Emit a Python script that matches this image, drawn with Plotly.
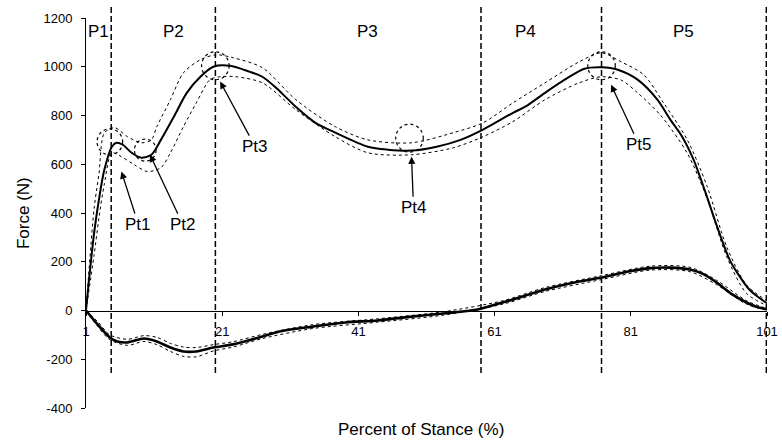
import plotly.graph_objects as go

# ---- vertical ground reaction force (N) vs percent of stance ----
vert_x = [1, 1.4, 2.2, 2.9, 3.7, 4.8, 5.5, 6.4, 7.7, 9.1, 10.6, 12.0, 13.9, 15.8, 17.8,
          19.7, 22.1, 25.0, 26.9, 28.9, 31.8, 34.7, 37.6, 42.4, 45.3, 48.8, 52.5, 56.0,
          59.3, 63.7, 65.5, 68.4, 71.3, 74.2, 76.7, 79.1, 82.0, 84.9, 86.8, 88.5, 90.2,
          91.9, 93.6, 95.5, 97.0, 98.4, 99.8, 101]
vert_mean = [0, 115, 320, 455, 578, 672, 688, 680, 647, 627, 639, 700, 795, 893, 959,
             1000, 1004, 980, 959, 914, 836, 770, 730, 672, 660, 656, 672, 700,
             742, 811, 836, 893, 947, 992, 998, 988, 947, 865, 783, 715, 620,
             490, 350, 209, 139, 86, 53, 30]

vert_up_x = [1, 2.2, 2.9, 3.7, 5.2, 7.1, 9.1, 10.6, 11.4, 13.4, 15.3, 17.8, 20.1, 22.6,
             26.9, 31.8, 37.6, 42.4, 48.8, 55.0, 59.3, 63.7, 68.4, 73.4, 76.7, 79.6,
             82.9, 85.8, 89.3, 92.2, 95.1, 98.0, 101]
vert_up = [0, 420, 560, 729, 750, 713, 688, 700, 754, 865, 975, 1029, 1049, 1037,
           996, 865, 754, 700, 688, 730, 770, 852, 934, 1020, 1057, 1020,
           967, 852, 700, 510, 260, 105, 40]

vert_lo_x = [1, 2.2, 2.9, 3.7, 4.8, 6.2, 8.1, 10.0, 12.0, 13.4, 15.3, 17.2, 19.2, 20.7,
             23.0, 26.9, 31.8, 37.6, 42.4, 48.8, 55.0, 59.3, 63.7, 68.4, 73.4, 76.7,
             79.6, 82.0, 85.4, 89.3, 92.2, 95.1, 98.0, 101]
vert_lo = [0, 230, 380, 520, 647, 631, 598, 570, 586, 647, 754, 852, 947, 959,
           959, 934, 824, 713, 647, 639, 668, 713, 775, 865, 934, 959,
           945, 893, 800, 645, 460, 220, 70, 20]

# ---- anterior-posterior ground reaction force (N) ----
ap_x = [1, 2.7, 4.5, 5.6, 7.1, 9.5, 11.4, 13.4, 15.3, 17.2, 19.7, 22.6, 26.9, 29.4,
        34.3, 39.1, 43.8, 48.8, 53.5, 58.3, 62.2, 63.7, 68.4, 73.4, 76.7, 80.6, 83.9,
        86.8, 89.7, 91.6, 93.6, 95.9, 98.0, 99.8, 101]
ap_mean = [0, -57, -111, -127, -131, -115, -127, -152, -168, -168, -152, -139, -107, -86,
           -66, -49, -41, -25, -12, 3, 33, 45, 86, 119, 135, 160, 174,
           176, 168, 150, 115, 66, 33, 12, 5]

ap_band_x = [1, 2.7, 4.5, 7.1, 9.5, 11.4, 13.4, 15.3, 17.2, 19.7, 22.6, 26.9, 34.3,
             43.8, 53.5, 62.2, 68.4, 76.7, 83.9, 89.7, 93.6, 98.0, 101]
ap_up = [0, -45, -100, -118, -103, -110, -135, -150, -152, -140, -128, -98, -58,
         -34, -5, 40, 94, 143, 182, 177, 124, 40, 8]
ap_lo = [0, -65, -120, -143, -127, -140, -168, -188, -190, -166, -150, -115, -74,
         -48, -19, 26, 78, 127, 166, 159, 106, 26, 2]

# ---- phases and events ----
phase_bounds = [4.7, 20.0, 59.0, 76.7, 100.9]
phase_names = ["P1", "P2", "P3", "P4", "P5"]
phase_label_x = [2.9, 13.9, 42.4, 65.5, 88.7]

event_names = ["Pt1", "Pt2", "Pt3", "Pt4", "Pt5"]
event_x = [4.5, 9.7, 20.0, 48.5, 76.7]
event_y = [692, 658, 1004, 707, 1004]
arrow_x = [6.2, 10.4, 20.7, 48.8, 78.1]
arrow_y = [570, 639, 939, 631, 926]
label_dx = [17, 33, 35, 2, 28]      # text offset from arrow head, px
label_dy = [53, 70, 65, 51, 60]

x_ticks = [1, 21, 41, 61, 81, 101]
y_ticks = [-400, -200, 0, 200, 400, 600, 800, 1000, 1200]

FONT = "Arial, Liberation Sans, sans-serif"
W, H = 782, 446
ML, MR, MT, MB = 86, 4, 18, 38
plot_w = W - ML - MR
plot_h = H - MT - MB
XR = [1, 101]
YR = [-400, 1200]
px_per_x = plot_w / (XR[1] - XR[0])
px_per_y = plot_h / (YR[1] - YR[0])

fig = go.Figure()

def band(x, y):
    fig.add_trace(go.Scatter(x=x, y=y, mode="lines",
                             line=dict(color="black", width=1, dash="dot",
                                       shape="spline", smoothing=0.8),
                             hoverinfo="skip", showlegend=False))

def mean(x, y, w):
    fig.add_trace(go.Scatter(x=x, y=y, mode="lines",
                             line=dict(color="black", width=w,
                                       shape="spline", smoothing=0.8),
                             showlegend=False))

band(vert_up_x, vert_up)
band(vert_lo_x, vert_lo)
mean(vert_x, vert_mean, 2)
band(ap_band_x, ap_up)
band(ap_band_x, ap_lo)
mean(ap_x, ap_mean, 2.6)

shapes = []
# dashed phase boundaries, running from about -255 N up past the top of the axis
for xb in phase_bounds:
    shapes.append(dict(type="line", xref="x", yref="paper", x0=xb, x1=xb,
                       y0=(408 - 373) / plot_h, y1=1 + 11 / plot_h,
                       line=dict(color="black", width=1.5, dash="6px,3px")))

# dotted rings marking the events on the mean curve
for cx, cy, r in zip(event_x, event_y, [13, 11, 14, 14, 14]):
    dx = r / px_per_x
    dy = r / px_per_y
    shapes.append(dict(type="circle", xref="x", yref="y",
                       x0=cx - dx, x1=cx + dx, y0=cy - dy, y1=cy + dy,
                       line=dict(color="black", width=1.2, dash="dot")))

annotations = []
for name, lx in zip(phase_names, phase_label_x):
    annotations.append(dict(x=lx, y=1143, xref="x", yref="y", text=name,
                            showarrow=False, font=dict(family=FONT, size=17, color="black")))

for name, ax_, ay_, dx, dy in zip(event_names, arrow_x, arrow_y, label_dx, label_dy):
    annotations.append(dict(x=ax_, y=ay_, xref="x", yref="y", text=name,
                            showarrow=True, arrowhead=2, arrowsize=1.1, arrowwidth=1.3,
                            arrowcolor="black", ax=dx, ay=dy,
                            font=dict(family=FONT, size=17, color="black")))

annotations.append(dict(x=(22 - ML) / plot_w, y=0.5, xref="paper", yref="paper",
                        xanchor="center", yanchor="middle",
                        text="Force (N)", textangle=-90, showarrow=False,
                        font=dict(family=FONT, size=17, color="black")))
annotations.append(dict(x=(426 - ML) / plot_w, y=-(429 - 408) / plot_h,
                        xref="paper", yref="paper", xanchor="center", yanchor="middle",
                        text="Percent of Stance (%)",
                        showarrow=False, font=dict(family=FONT, size=17, color="black")))

fig.update_layout(
    width=W, height=H,
    margin=dict(l=ML, r=MR, t=MT, b=MB, pad=0),
    paper_bgcolor="white", plot_bgcolor="white",
    shapes=shapes, annotations=annotations,
    showlegend=False,
    xaxis=dict(range=XR, tickvals=x_ticks, ticktext=[str(t) for t in x_ticks],
               anchor="free", position=(0 - YR[0]) / (YR[1] - YR[0]),
               showline=True, linecolor="black", linewidth=1,
               ticks="outside", ticklen=4, tickcolor="black", ticklabelstandoff=5,
               showgrid=False, zeroline=False, ticklabeloverflow="allow",
               tickfont=dict(family=FONT, size=13, color="black")),
    yaxis=dict(range=YR, tickvals=y_ticks, ticktext=[str(t) for t in y_ticks],
               showline=True, linecolor="black", linewidth=1,
               ticks="outside", ticklen=4, tickcolor="black", ticklabelstandoff=6,
               showgrid=False, zeroline=False,
               tickfont=dict(family=FONT, size=13, color="black")),
)

fig.write_html("out.html")
